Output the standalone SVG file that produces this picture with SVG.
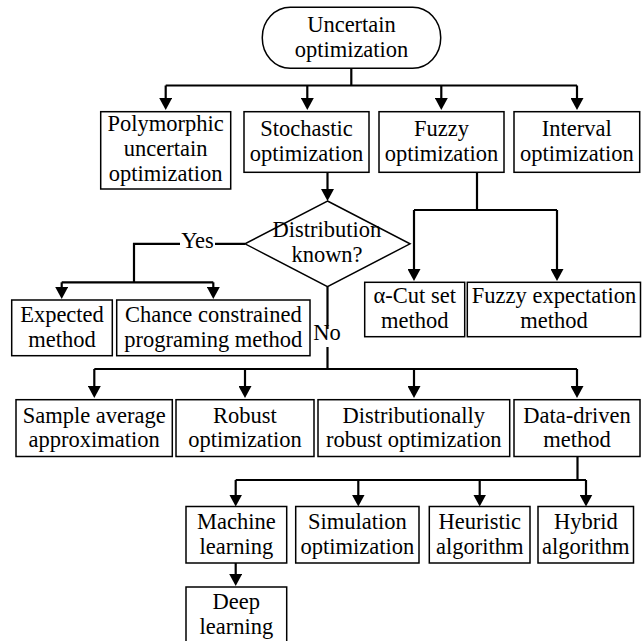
<svg xmlns="http://www.w3.org/2000/svg" width="642" height="641" viewBox="0 0 642 641">
<style>
.box{fill:#fff;stroke:#000;stroke-width:1.5}
.t{font-family:'Liberation Serif','DejaVu Serif',serif;font-size:22.5px;fill:#000;text-anchor:middle}
.c{fill:none;stroke:#000;stroke-width:2.2}
.a{marker-end:url(#arr)}
</style>
<defs>
<marker id="arr" markerUnits="userSpaceOnUse" markerWidth="12" markerHeight="13" viewBox="0 0 12 13" refX="8" refY="6.5" orient="auto">
<path d="M0,0 L12,6.5 L0,13 Z" fill="#000"/>
</marker>
</defs>
<rect width="642" height="641" fill="#fff"/>
<g id="connectors">
<path class="c" d="M351.3,68.3 V85.5 M165.7,85.5 H577"/>
<path class="c a" d="M165.7,85.5 V106"/>
<path class="c a" d="M307.3,85.5 V106"/>
<path class="c a" d="M441.3,85.5 V106"/>
<path class="c a" d="M577,85.5 V106"/>
<path class="c a" d="M327.5,172.3 V197"/>
<path class="c" d="M477,172.3 V210 M414,210 H557"/>
<path class="c a" d="M414,210 V277"/>
<path class="c a" d="M557,210 V277"/>
<path class="c" d="M245,243.8 H215 M180,243.8 H134 V282.3 M61.7,282.3 H213.3"/>
<path class="c a" d="M61.7,282.3 V295"/>
<path class="c a" d="M213.3,282.3 V295"/>
<path class="c" d="M327.5,286.7 V329 M327.5,347 V369 M94.3,369 H577"/>
<path class="c a" d="M94.3,369 V394"/>
<path class="c a" d="M245,369 V394"/>
<path class="c a" d="M414,369 V394"/>
<path class="c a" d="M577,369 V394"/>
<path class="c" d="M577.5,456.7 V480 M235.7,480 H586"/>
<path class="c a" d="M235.7,480 V502.5"/>
<path class="c a" d="M358.3,480 V502.5"/>
<path class="c a" d="M479.7,480 V502.5"/>
<path class="c a" d="M586,480 V502.5"/>
<path class="c a" d="M235.7,563 V582"/>
<text class="t" font-family="Liberation Serif" x="197.5" y="248">Yes</text>
<text class="t" font-family="Liberation Serif" x="327" y="340">No</text>
</g>
<g id="n-root">
<rect class="box" x="262.3" y="7.3" width="178.4" height="61" rx="28" ry="30"/>
<text class="t" x="351.5" y="31.7">Uncertain</text>
<text class="t" x="351.5" y="57.3">optimization</text>
</g>
<g id="n-poly">
<rect class="box" x="100.7" y="111.7" width="130" height="77.3"/>
<text class="t" x="165.7" y="130.5">Polymorphic</text>
<text class="t" x="165.7" y="155.5">uncertain</text>
<text class="t" x="165.7" y="180.5">optimization</text>
</g>
<g id="n-stoch">
<rect class="box" x="244" y="111.7" width="125" height="60.6"/>
<text class="t" x="306.5" y="136">Stochastic</text>
<text class="t" x="306.5" y="161">optimization</text>
</g>
<g id="n-fuzzy">
<rect class="box" x="379" y="111.7" width="125" height="60.6"/>
<text class="t" x="441.5" y="136">Fuzzy</text>
<text class="t" x="441.5" y="161">optimization</text>
</g>
<g id="n-interval">
<rect class="box" x="514" y="111.7" width="125.7" height="60.6"/>
<text class="t" x="576.8" y="136">Interval</text>
<text class="t" x="576.8" y="161">optimization</text>
</g>
<g id="n-dist">
<polygon class="box" points="327.5,201 410,243.8 327.5,286.7 245,243.8"/>
<text class="t" x="327" y="236.7">Distribution</text>
<text class="t" x="327" y="261.7">known?</text>
</g>
<g id="n-expected">
<rect class="box" x="11.7" y="300" width="100.6" height="55.7"/>
<text class="t" x="62" y="322">Expected</text>
<text class="t" x="62" y="347">method</text>
</g>
<g id="n-chance">
<rect class="box" x="116.7" y="300" width="193.3" height="55.7"/>
<text class="t" x="213.3" y="322">Chance constrained</text>
<text class="t" x="213.3" y="347">programing method</text>
</g>
<g id="n-alpha">
<rect class="box" x="364.7" y="282.3" width="100" height="54.4"/>
<text class="t" x="414.7" y="303.3">α-Cut set</text>
<text class="t" x="414.7" y="328.3">method</text>
</g>
<g id="n-fexp">
<rect class="box" x="467.3" y="282.3" width="173.2" height="54.4"/>
<text class="t" x="554" y="303.3">Fuzzy expectation</text>
<text class="t" x="554" y="328.3">method</text>
</g>
<g id="n-saa">
<rect class="box" x="16" y="399.7" width="156.3" height="56.8"/>
<text class="t" x="94.2" y="422.5">Sample average</text>
<text class="t" x="94.2" y="446.5">approximation</text>
</g>
<g id="n-robust">
<rect class="box" x="176" y="399.7" width="138" height="56.8"/>
<text class="t" x="245" y="422.5">Robust</text>
<text class="t" x="245" y="446.5">optimization</text>
</g>
<g id="n-dro">
<rect class="box" x="318" y="399.7" width="191.7" height="56.8"/>
<text class="t" x="413.8" y="422.5">Distributionally</text>
<text class="t" x="413.8" y="446.5">robust optimization</text>
</g>
<g id="n-data">
<rect class="box" x="514" y="399.7" width="126" height="56.8"/>
<text class="t" x="577" y="422.5">Data-driven</text>
<text class="t" x="577" y="446.5">method</text>
</g>
<g id="n-ml">
<rect class="box" x="186" y="506.5" width="100.7" height="56.5"/>
<text class="t" x="236.3" y="528.7">Machine</text>
<text class="t" x="236.3" y="553.7">learning</text>
</g>
<g id="n-sim">
<rect class="box" x="295.7" y="506.5" width="123.3" height="56.5"/>
<text class="t" x="357.4" y="528.7">Simulation</text>
<text class="t" x="357.4" y="553.7">optimization</text>
</g>
<g id="n-heur">
<rect class="box" x="429.3" y="506.5" width="100.7" height="56.5"/>
<text class="t" x="479.7" y="528.7">Heuristic</text>
<text class="t" x="479.7" y="553.7">algorithm</text>
</g>
<g id="n-hybrid">
<rect class="box" x="538" y="506.5" width="95.5" height="56.5"/>
<text class="t" x="585.8" y="528.7">Hybrid</text>
<text class="t" x="585.8" y="553.7">algorithm</text>
</g>
<g id="n-deep">
<rect class="box" x="186" y="587" width="100.7" height="57"/>
<text class="t" x="236.3" y="608.5">Deep</text>
<text class="t" x="236.3" y="633.5">learning</text>
</g>
</svg>
